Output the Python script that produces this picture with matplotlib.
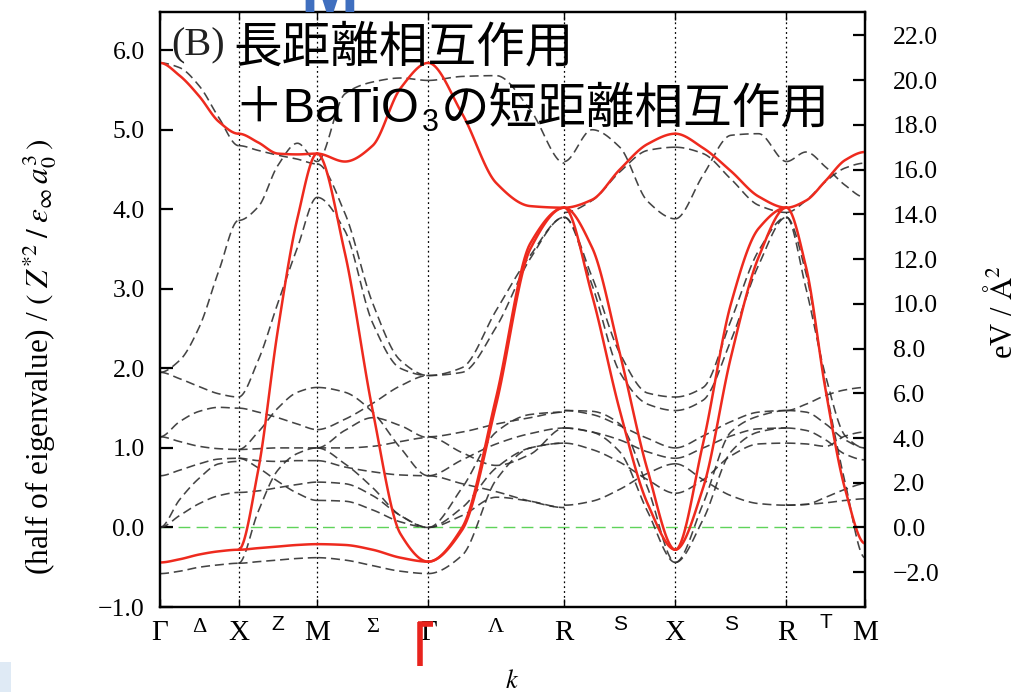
import numpy as np
import matplotlib
matplotlib.use("Agg")
import matplotlib.pyplot as plt
from matplotlib.patches import Rectangle

plt.rcParams['font.family'] = ['Liberation Serif', 'DejaVu Serif']
plt.rcParams['mathtext.fontset'] = 'stix'
plt.rcParams['lines.scale_dashes'] = False

# ---- k-path through the simple-cubic Brillouin zone (units of 2pi/a) ----
kpoint_labels = ["Γ", "X", "M", "Γ", "R", "X", "R", "M"]
kpoint_coords = [(0, 0, 0), (0.5, 0, 0), (0.5, 0.5, 0), (0, 0, 0),
                 (0.5, 0.5, 0.5), (0.5, 0, 0), (0.5, 0.5, 0.5), (0.5, 0.5, 0)]
line_labels = ["Δ", "Z", "Σ", "Λ", "S", "S", "T"]

# eV/Å^2 per (Z*^2 / eps_inf a0^3) unit, for the right-hand scale
ev_per_unit = 3.557

# Branch values sampled at 0, 1/4, 1/2, 3/4 and 1 of each path segment.
# Red: long-range + BaTiO3 short-range interaction.  Dashed: reference branches.
red_GX = [[5.84, 5.68, 5.42, 5.10, 4.95],
          [-0.44, -0.40, -0.34, -0.30, -0.28]]
dash_GX = [[5.84, 5.78, 5.55, 5.15, 4.80],
           [1.95, 2.10, 2.52, 3.23, 3.86],
           [1.95, 1.87, 1.77, 1.68, 1.64],
           [1.14, 1.33, 1.46, 1.51, 1.50],
           [1.14, 1.08, 1.02, 0.99, 0.98],
           [0.65, 0.72, 0.80, 0.86, 0.87],
           [0.00, 0.35, 0.62, 0.80, 0.83],
           [0.00, 0.15, 0.30, 0.40, 0.44],
           [-0.58, -0.55, -0.50, -0.47, -0.45]]

red_XM = [[4.95, 4.84, 4.70, 4.69, 4.70],
          [-0.28, 0.72, 2.48, 3.89, 4.70],
          [-0.28, -0.26, -0.24, -0.22, -0.21]]
dash_XM = [[4.80, 4.74, 4.68, 4.63, 4.57],
           [3.86, 4.03, 4.55, 4.83, 4.60],
           [1.64, 2.10, 2.82, 3.52, 4.15],
           [1.50, 1.45, 1.38, 1.30, 1.23],
           [0.98, 1.20, 1.50, 1.70, 1.76],
           [0.98, 0.99, 1.00, 1.00, 1.00],
           [0.87, 0.84, 0.83, 0.84, 0.84],
           [0.87, 0.75, 0.58, 0.43, 0.34],
           [0.44, 0.46, 0.50, 0.54, 0.57],
           [-0.45, 0.20, 0.72, 0.93, 1.00],
           [-0.45, -0.43, -0.41, -0.39, -0.38]]

red_MG = [[4.70, 4.60, 4.80, 5.52, 5.84],
          [4.70, 3.45, 1.47, -0.08, -0.43],
          [-0.21, -0.22, -0.28, -0.38, -0.43]]
dash_MG = [[4.60, 5.45, 5.60, 5.65, 5.62],
           [4.57, 3.95, 2.82, 2.10, 1.91],
           [4.15, 3.73, 2.57, 2.00, 1.91],
           [1.23, 1.36, 1.56, 1.78, 1.91],
           [1.76, 1.70, 1.45, 1.00, 0.65],
           [1.00, 1.22, 1.38, 1.28, 1.13],
           [1.00, 1.00, 1.02, 1.08, 1.13],
           [0.84, 0.76, 0.70, 0.66, 0.65],
           [1.00, 0.80, 0.50, 0.15, 0.00],
           [0.57, 0.55, 0.40, 0.15, 0.00],
           [0.34, 0.33, 0.22, 0.07, 0.00],
           [-0.38, -0.41, -0.48, -0.55, -0.58]]

red_GR = [[5.84, 5.20, 4.33, 4.04, 4.02],
          [-0.43, 0.00, 1.64, 3.57, 4.02],
          [-0.43, -0.03, 1.55, 3.50, 4.02]]
dash_GR = [[5.62, 5.67, 5.68, 5.25, 4.58],
           [1.91, 2.01, 2.73, 3.42, 3.90],
           [1.91, 1.95, 2.52, 3.38, 3.90],
           [1.14, 1.20, 1.30, 1.38, 1.45],
           [1.14, 0.94, 0.78, 0.92, 1.25],
           [0.65, 0.85, 1.05, 1.18, 1.25],
           [0.65, 0.55, 0.45, 0.33, 0.25],
           [0.00, 0.15, 0.38, 0.33, 0.25],
           [0.00, 0.25, 0.75, 1.00, 1.06],
           [0.00, 0.50, 1.20, 1.42, 1.45],
           [-0.58, -0.35, 0.60, 1.00, 1.06]]

red_RX = [[4.02, 4.12, 4.50, 4.82, 4.95],
          [4.02, 2.92, 1.47, 0.30, -0.28],
          [4.02, 3.52, 2.19, 0.72, -0.28]]
dash_RX = [[4.60, 5.00, 4.78, 4.10, 3.88],
           [3.96, 4.11, 4.47, 4.74, 4.78],
           [3.90, 3.15, 2.19, 1.69, 1.64],
           [3.90, 3.05, 1.95, 1.55, 1.47],
           [1.47, 1.46, 1.30, 0.50, -0.44],
           [1.25, 1.20, 0.95, 0.20, -0.44],
           [1.47, 1.42, 1.28, 1.12, 1.00],
           [1.25, 1.20, 1.10, 0.95, 0.87],
           [1.06, 0.98, 0.82, 0.60, 0.43],
           [0.28, 0.33, 0.48, 0.68, 0.80]]

red_XR = [[4.95, 4.77, 4.48, 4.16, 4.02],
          [-0.28, 1.06, 2.81, 3.76, 4.02],
          [-0.28, 0.50, 2.14, 3.40, 4.02]]
dash_XR = [[3.88, 4.43, 4.93, 4.95, 4.60],
           [4.78, 4.70, 4.38, 4.05, 3.96],
           [1.64, 1.76, 2.60, 3.48, 3.90],
           [1.47, 1.60, 2.35, 3.30, 3.90],
           [-0.44, 0.30, 1.20, 1.40, 1.47],
           [-0.44, 0.10, 0.95, 1.20, 1.25],
           [1.00, 1.15, 1.33, 1.45, 1.47],
           [0.87, 1.00, 1.15, 1.24, 1.25],
           [0.43, 0.60, 0.90, 1.05, 1.06],
           [0.80, 0.60, 0.40, 0.30, 0.28]]

red_RM = [[4.02, 4.11, 4.36, 4.62, 4.72],
          [4.02, 3.27, 1.72, 0.47, -0.20]]
dash_RM = [[4.60, 4.72, 4.53, 4.30, 4.15],
           [3.96, 4.11, 4.35, 4.52, 4.58],
           [3.90, 3.19, 1.76, 0.55, -0.38],
           [3.90, 3.00, 1.90, 1.15, 1.00],
           [1.47, 1.45, 1.30, 1.10, 1.00],
           [1.47, 1.55, 1.66, 1.73, 1.76],
           [1.25, 1.22, 1.10, 0.92, 0.85],
           [1.06, 1.05, 1.02, 1.15, 1.20],
           [0.28, 0.29, 0.38, 0.48, 0.55],
           [0.28, 0.29, 0.31, 0.34, 0.36]]

red_branches = [red_GX, red_XM, red_MG, red_GR, red_RX, red_XR, red_RM]
dash_branches = [dash_GX, dash_XM, dash_MG, dash_GR, dash_RX, dash_XR, dash_RM]

left_ticks = [-1.0, 0.0, 1.0, 2.0, 3.0, 4.0, 5.0, 6.0]
right_ticks = [-2.0, 0.0, 2.0, 4.0, 6.0, 8.0, 10.0, 12.0, 14.0, 16.0, 18.0, 20.0, 22.0]
ylim = (-1.0, 6.48)


def branch_curve(x, y, xn):
    """Shape-preserving cubic through the samples; flat at the zone points."""
    x = np.asarray(x, float)
    y = np.asarray(y, float)
    h = np.diff(x)
    d = np.diff(y) / h
    n = len(x)
    m = np.zeros(n)
    for i in range(1, n - 1):
        if d[i - 1] * d[i] > 0:
            w1 = 2 * h[i] + h[i - 1]
            w2 = h[i] + 2 * h[i - 1]
            m[i] = (w1 + w2) / (w1 / d[i - 1] + w2 / d[i])
    idx = np.clip(np.searchsorted(x, xn) - 1, 0, n - 2)
    t = (xn - x[idx]) / h[idx]
    h00 = 2 * t**3 - 3 * t**2 + 1
    h10 = t**3 - 2 * t**2 + t
    h01 = -2 * t**3 + 3 * t**2
    h11 = t**3 - t**2
    return (h00 * y[idx] + h10 * h[idx] * m[idx]
            + h01 * y[idx + 1] + h11 * h[idx] * m[idx + 1])


coords = np.array(kpoint_coords, float)
kpos = np.concatenate([[0.0], np.cumsum(np.linalg.norm(np.diff(coords, axis=0), axis=1))])
fractions = np.array([0.0, 0.25, 0.5, 0.75, 1.0])

W, H = 1025, 692
fig = plt.figure(figsize=(W / 100, H / 100), dpi=100)


def fx(x):
    return x / W


def fy(y):
    return 1 - y / H


ax = fig.add_axes([fx(160), fy(607), fx(865) - fx(160), fy(12) - fy(607)])
ax.set_xlim(kpos[0], kpos[-1])
ax.set_ylim(*ylim)

# zero line and high-symmetry guides
ax.axhline(0.0, color='#5fd35a', lw=1.0, ls=(0, (8.5, 4.5)), zorder=1)
for k in kpos[1:-1]:
    ax.axvline(k, color='black', lw=0.9, ls=(0, (1.3, 2.2)), zorder=1)

for seg in range(len(kpos) - 1):
    k0, k1 = kpos[seg], kpos[seg + 1]
    kk = k0 + fractions * (k1 - k0)
    kn = np.linspace(k0, k1, 100)
    for b in dash_branches[seg]:
        ax.plot(kn, branch_curve(kk, b, kn), color='#303030', lw=1.15,
                ls=(0, (6.5, 3.5)), alpha=0.9, zorder=2)
for seg in range(len(kpos) - 1):
    k0, k1 = kpos[seg], kpos[seg + 1]
    kk = k0 + fractions * (k1 - k0)
    kn = np.linspace(k0, k1, 100)
    for b in red_branches[seg]:
        ax.plot(kn, branch_curve(kk, b, kn), color='#ee2a1e', lw=1.8, zorder=3,
                solid_capstyle='round')

# axes styling
for sp in ax.spines.values():
    sp.set_linewidth(1.6)
ax.set_yticks(left_ticks)
ax.set_yticklabels([f"{v:.1f}".replace("-", "−") for v in left_ticks])
ax.set_xticks(kpos)
ax.set_xticklabels(kpoint_labels)
ax.tick_params(axis='y', direction='in', length=9, width=1.6, labelsize=18.5,
               pad=11, right=False)
ax.tick_params(axis='x', direction='in', length=6, width=1.0, labelsize=21,
               pad=9, top=True)

ax2 = ax.twinx()
ax2.set_ylim(ylim[0] * ev_per_unit, ylim[1] * ev_per_unit)
ax2.set_yticks(right_ticks)
ax2.set_yticklabels([f"{v:.1f}".replace("-", "−") for v in right_ticks])
ax2.tick_params(axis='y', direction='in', length=9, width=1.6, labelsize=18.5,
                pad=20)
for sp in ax2.spines.values():
    sp.set_linewidth(1.6)

# segment labels between the high-symmetry points
seg_label_y = [627, 624, 628, 628, 625, 625, 622]
for i, lab in enumerate(line_labels):
    kmid = 0.5 * (kpos[i] + kpos[i + 1])
    xd = ax.transData.transform((kmid, 0))[0]
    if lab in ("Z", "S", "T"):
        fig.text(fx(xd), fy(seg_label_y[i]), lab, ha='center', va='center',
                 fontsize=15, family=['Liberation Sans'])
    else:
        fig.text(fx(xd), fy(seg_label_y[i]), lab, ha='center', va='center',
                 fontsize=16, family=['Liberation Serif'])

# axis titles
fig.text(fx(512), fy(681), "$k$", ha='center', va='center', fontsize=19)
fig.text(fx(40), fy(357),
         r"(half of eigenvalue) / $(\;Z^{*2}\;/\;\varepsilon_{\infty}\,a_0^{3}\,)$",
         rotation=90, ha='center', va='center', fontsize=22.5)
fig.text(fx(1003), fy(312), r"eV / $\mathrm{\AA}^{2}$", rotation=90,
         ha='center', va='center', fontsize=22)

# panel heading
fig.text(fx(171), fy(46), "(B)", ha='left', va='center', fontsize=29,
         color='#222222')
jp = ['Liberation Sans', 'Noto Sans CJK JP']
fig.text(fx(233), fy(61), "長距離相互作用", ha='left', va='baseline',
         fontsize=35, family=jp)
fig.canvas.draw()
r = fig.canvas.get_renderer()
t1 = fig.text(fx(234), fy(122), "＋BaTiO", ha='left', va='baseline',
              fontsize=35, family=jp)
bb = t1.get_window_extent(r)
t2 = fig.text((bb.x1 + 3) / W, fy(131), "3", ha='left', va='baseline',
              fontsize=22, family=jp)
bb2 = t2.get_window_extent(r)
fig.text((bb2.x1 + 2) / W, fy(122), "の短距離相互作用", ha='left',
         va='baseline', fontsize=35, family=jp)

# slide decorations
fig.text(fx(300), fy(12), "M", ha='left', va='baseline', fontsize=50,
         fontweight='bold', color='#3f6fbf', family=['Liberation Sans'])
fig.add_artist(Rectangle((0, 0), fx(11), fy(662), transform=fig.transFigure,
                         color='#dfeaf5', lw=0))
fig.add_artist(plt.Line2D([fx(420), fx(420)], [fy(622), fy(666)],
                          transform=fig.transFigure, color='#e8231d', lw=4.0,
                          solid_capstyle='butt'))
fig.add_artist(plt.Line2D([fx(418), fx(433)], [fy(624), fy(624)],
                          transform=fig.transFigure, color='#e8231d', lw=4.0,
                          solid_capstyle='butt'))

fig.savefig("out.png", dpi=100)
